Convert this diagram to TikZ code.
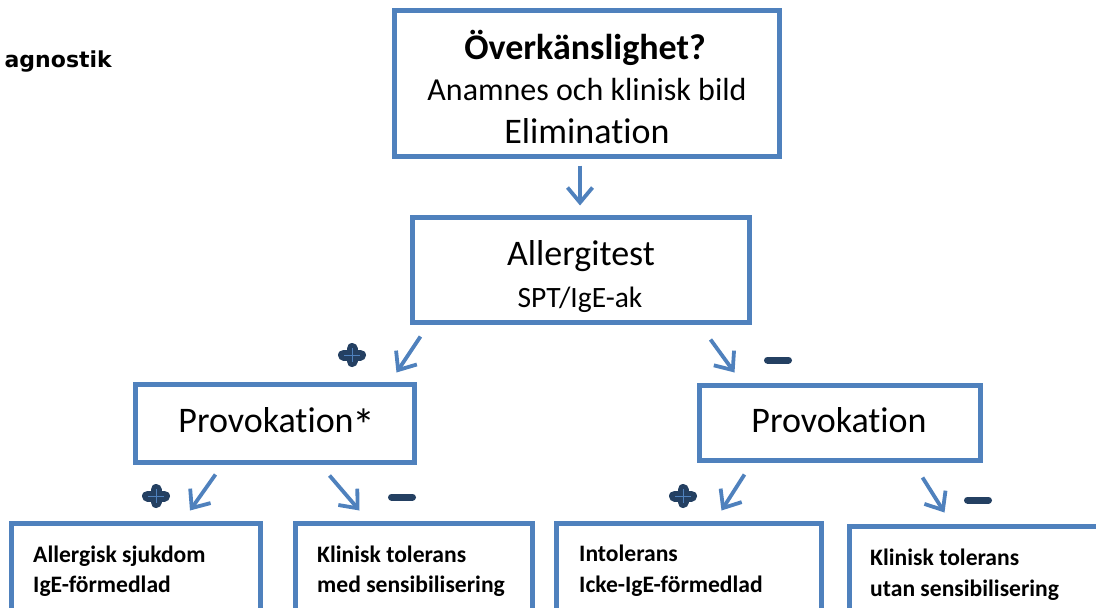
\documentclass[tikz,border=0pt]{standalone}
\usepackage{fontspec}
\setmainfont{Carlito}[RawFeature={-liga;-clig;-dlig;-calt}]
\newfontfamily\verdfont{DejaVu Sans}
\usetikzlibrary{arrows.meta,calc}
\definecolor{boxblue}{RGB}{79,129,189}
\definecolor{signblue}{RGB}{36,64,98}
\newcommand{\fsz}[1]{\fontsize{#1}{#1}\selectfont}
\newcommand{\tiX}{t\kern0pt i}
\begin{document}
\begin{tikzpicture}[x=1pt,y=-1pt,
  box/.style={draw=boxblue,line width=5pt,inner sep=0pt,fill=white},
  arr/.style={draw=boxblue,line width=3.8pt,-{Straight Barb[length=15pt,width=25pt]}},
  big/.style={font=\fsz{36}},
  small/.style={anchor=base west,inner sep=0pt,font=\fsz{23.6}\bfseries},
  pics/plussign/.style={code={
    \draw[signblue,line width=11pt,line cap=round] (-8.5,0) -- (8.5,0) (0,-6.5) -- (0,6.5);
    \draw[boxblue,line width=0.7pt] (-8,0) -- (8,0) (0,-7) -- (0,7);}},
  pics/minussign/.style={code={
    \draw[signblue,line width=7pt,line cap=round] (-10.5,0) -- (10.5,0);}}
]
\useasboundingbox (0,0) rectangle (1096,608);
\clip (0,0) rectangle (1096,608);

% boxes
\node[box,minimum width=385pt,minimum height=146pt] (top) at (587,83.5) {};
\node[box,minimum width=337pt,minimum height=105pt] (allerg) at (581,270) {};
\node[box,minimum width=279pt,minimum height=78pt] (prov1) at (275,423.5) {};
\node[box,minimum width=281pt,minimum height=75pt] (prov2) at (840,423) {};
\node[box,minimum width=249pt,minimum height=116.5pt] (b1) at (136,581.75) {};
\node[box,minimum width=237pt,minimum height=116.5pt] (b2) at (414,581.75) {};
\node[box,minimum width=265pt,minimum height=116.5pt] (b3) at (689,581.75) {};
\node[box,minimum width=260.5pt,minimum height=113.5pt] (b4) at (979.75,583.25) {};

% texts
\node[anchor=base east,inner sep=0pt,font=\verdfont\bfseries\fsz{22}] (diag) at (112,67) {agnostik};
\node[anchor=base,font=\fsz{36}\bfseries] (t1) at (585,59) {Överkänslighet?};
\node[anchor=base,font=\fsz{32}] (t2) at (587,100) {Anamnes och klinisk bild};
\node[anchor=base,big] (t3) at (587,143) {Elimina\tiX on};
\node[anchor=base,big] (a1) at (581,265) {Allergitest};
\node[anchor=base,font=\fsz{29.5}] (a2) at (580,307) {SPT/IgE-ak};
\node[anchor=base,big] (p1) at (277,432) {Provoka\tiX on\kern-1pt{\fsz{46}\raisebox{-9pt}{*}}};
\node[anchor=base,big] (p2) at (839,432) {Provoka\tiX on};
\node[small] (b1a) at (33,562) {Allergisk sjukdom};
\node[small] (b1b) at (33,592) {IgE-förmedlad};
\node[small] (b2a) at (317,562) {Klinisk tolerans};
\node[small] (b2b) at (317,592) {med sensibilisering};
\node[small] (b3a) at (579,561) {Intolerans};
\node[small] (b3b) at (579,592) {Icke-IgE-förmedlad};
\node[small] (b4a) at (870,565) {Klinisk tolerans};
\node[small] (b4b) at (870,596) {utan sensibilisering};

% connectors
\draw[arr] ($(top.south)+(-7,6.5)$) -- ($(allerg.north)+(-1,-9.5)$);
\draw[arr] ($(allerg.south west)+(10.5,11.5)$) -- ($(prov1.north east)+(-20.5,-9.5)$);
\draw[arr] ($(allerg.south east)+(-41.5,14.5)$) -- ($(prov2.north west)+(37.5,-10.5)$);
\draw[arr] ($(prov1.south west)+(82.5,9.5)$) -- ($(b1.north)+(54,-10.5)$);
\draw[arr] ($(prov1.south east)+(-87.5,10.5)$) -- ($(b2.north west)+(66.5,-10.5)$);
\draw[arr] ($(prov2.south west)+(47.5,11.5)$) -- ($(b3.north east)+(-102.5,-10.5)$);
\draw[arr] ($(prov2.south east)+(-60.5,14.5)$) -- ($(b4.north west)+(97.5,-11.5)$);

% signs
\pic at (352,355) {plussign};
\pic at (156,496) {plussign};
\pic at (683,496) {plussign};
\pic at (778,360) {minussign};
\pic at (402,497) {minussign};
\pic at (978,500) {minussign};
\end{tikzpicture}
\end{document}
